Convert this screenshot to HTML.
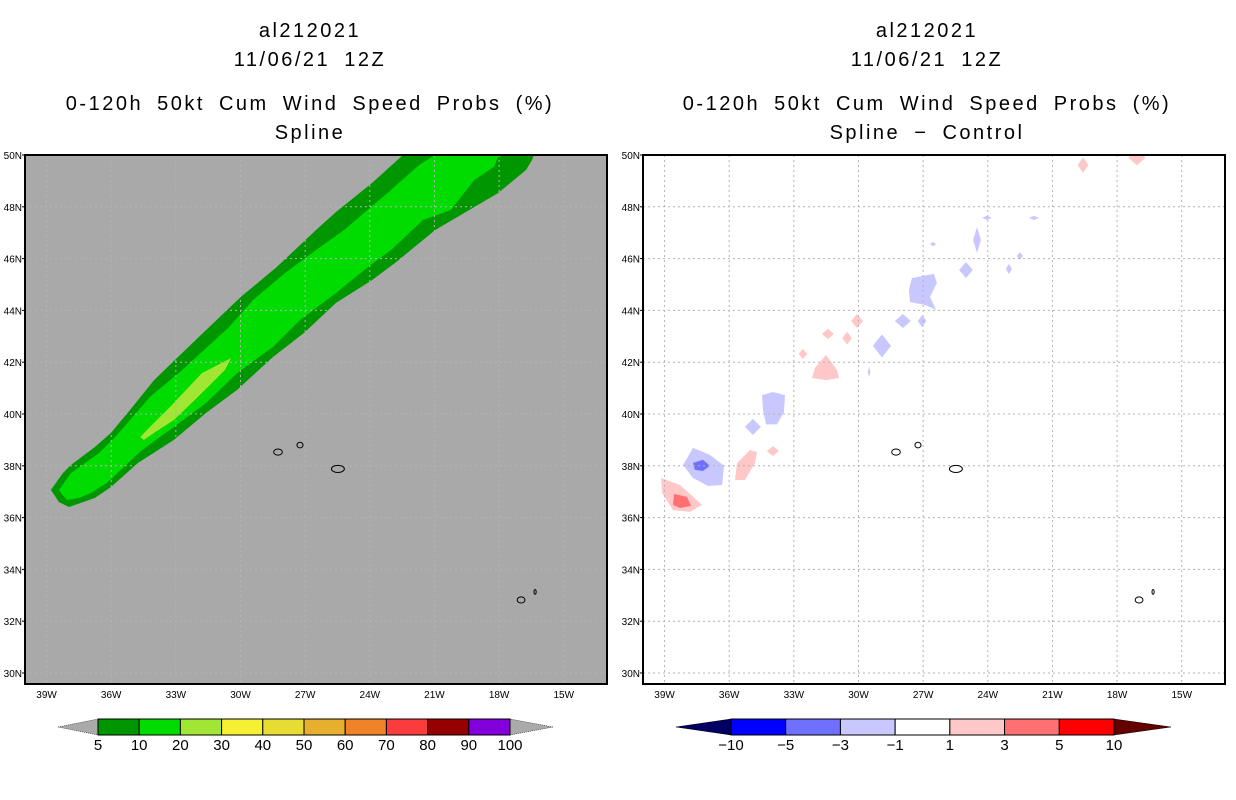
<!DOCTYPE html>
<html><head><meta charset="utf-8"><style>
html,body{margin:0;padding:0;background:#fff;width:1236px;height:800px;overflow:hidden}
svg{display:block}
text{font-family:"Liberation Sans",sans-serif;fill:#000}
.ttl{font-size:20px;letter-spacing:2.5px;word-spacing:6px}
.tk{font-size:10px}
.cb{font-size:15px}
</style></head><body>
<svg id="s" width="1236" height="800">
<g>
<text class="ttl" x="310" y="37" text-anchor="middle">al212021</text>
<text class="ttl" x="310" y="66" text-anchor="middle">11/06/21 12Z</text>
<text class="ttl" x="310" y="110" text-anchor="middle">0-120h 50kt Cum Wind Speed Probs (%)</text>
<text class="ttl" x="310" y="139" text-anchor="middle">Spline</text>
</g>
<g>
<text class="ttl" x="927" y="37" text-anchor="middle">al212021</text>
<text class="ttl" x="927" y="66" text-anchor="middle">11/06/21 12Z</text>
<text class="ttl" x="927" y="110" text-anchor="middle">0-120h 50kt Cum Wind Speed Probs (%)</text>
<text class="ttl" x="927" y="139" text-anchor="middle">Spline − Control</text>
</g>
</svg>
<script>
// ---- data ----
const lonTicks=[-39,-36,-33,-30,-27,-24,-21,-18,-15];
const lonLabels=["39W","36W","33W","30W","27W","24W","21W","18W","15W"];
const latTicks=[30,32,34,36,38,40,42,44,46,48,50];
const latLabels=["30N","32N","34N","36N","38N","40N","42N","44N","46N","48N","50N"];
const probOuter=[[-38.8,37.07],[-38.24,37.72],[-37.87,38.03],[-36.75,38.73],[-36.01,39.27],[-35.13,40.15],[-34.01,41.31],[-32.9,42.2],[-31.6,43.24],[-29.98,44.52],[-28.31,45.68],[-26.5,47.1],[-25.57,47.8],[-23.9,48.92],[-22.46,50],[-16.38,50],[-16.47,49.81],[-16.75,49.42],[-18.05,48.53],[-19.16,47.99],[-20.97,47.1],[-22.83,45.83],[-23.9,45.17],[-25.57,44.29],[-27.05,43.13],[-28.49,42.2],[-30.16,40.93],[-31.6,40.04],[-33.09,39.0],[-34.76,38.11],[-36.01,37.18],[-36.75,36.76],[-37.31,36.6],[-37.96,36.41],[-38.42,36.6]];
const prob10=[[-38.42,37.07],[-37.87,37.72],[-36.57,38.49],[-35.82,39.11],[-34.2,40.66],[-32.71,41.7],[-30.53,43.36],[-29.42,44.4],[-27.94,45.44],[-26.5,46.33],[-25.2,47.1],[-23.02,48.65],[-21.72,49.61],[-20.97,50],[-17.96,50],[-18.05,49.92],[-18.24,49.54],[-19.16,49.03],[-20.23,47.88],[-21.53,47.49],[-23.02,46.33],[-24.08,45.68],[-25.57,44.67],[-27.24,43.63],[-28.49,42.59],[-30.16,41.58],[-31.6,40.42],[-33.09,39.5],[-34.57,38.61],[-36.2,37.34],[-36.94,36.95],[-37.49,36.76],[-38.05,36.68],[-38.33,36.95]];
const prob20=[[-34.66,39.11],[-34.2,39.5],[-33.27,40.27],[-31.79,41.58],[-30.44,42.16],[-30.72,41.7],[-31.97,40.66],[-33.09,39.77],[-34.01,39.27],[-34.48,39.0]];
const islands=[[-28.26,38.53,0.2,0.08],[-27.24,38.8,0.14,0.07],[-25.48,37.88,0.3,0.1],[-16.98,32.82,0.18,0.08],[-16.33,33.13,0.05,0.05]];
const diffPolys=[
 {v:1,pts:[[-39.16,37.53],[-38.28,37.26],[-37.26,36.49],[-37.82,36.22],[-38.61,36.29],[-39.12,36.95]]},
 {v:3,pts:[[-38.56,36.91],[-37.96,36.8],[-37.77,36.45],[-38.28,36.37],[-38.61,36.49]]},
 {v:-1,pts:[[-38.14,38.03],[-37.68,38.69],[-36.89,38.42],[-36.24,38.0],[-36.33,37.26],[-36.98,37.22],[-37.68,37.53]]},
 {v:-3,pts:[[-37.68,38.11],[-37.22,38.23],[-36.89,38.0],[-37.22,37.8],[-37.59,37.84]]},
 {v:1,pts:[[-35.73,37.45],[-35.64,38.11],[-35.03,38.61],[-34.71,38.53],[-34.8,38.11],[-35.27,37.45]]},
 {v:-1,pts:[[-34.48,40.73],[-33.97,40.85],[-33.41,40.73],[-33.46,40.07],[-33.78,39.6],[-34.29,39.6],[-34.43,40.15]]},
 {v:1,pts:[[-31.51,42.28],[-31.0,41.7],[-30.9,41.39],[-31.51,41.31],[-32.16,41.39],[-32.02,41.78]]},
 {v:-1,pts:[[-27.52,45.25],[-26.5,45.41],[-26.36,45.06],[-26.68,44.52],[-26.4,44.02],[-26.91,44.21],[-27.61,44.32],[-27.66,44.79]]}
];
const diffSpots=[
 {v:1,c:[-33.97,38.57,0.28,0.19]},{v:-1,c:[-34.9,39.5,0.37,0.31]},{v:1,c:[-32.58,42.32,0.2,0.2]},
 {v:1,c:[-31.42,43.09,0.28,0.2]},{v:1,c:[-30.53,42.93,0.22,0.25]},{v:1,c:[-30.07,43.59,0.28,0.27]},
 {v:-1,c:[-28.91,42.63,0.42,0.45]},{v:-1,c:[-27.94,43.59,0.37,0.27]},{v:-1,c:[-27.05,43.59,0.2,0.23]},
 {v:-1,c:[-25.01,45.56,0.32,0.31]},{v:-1,c:[-24.5,46.72,0.18,0.5]},{v:-1,c:[-22.51,46.1,0.14,0.15]},
 {v:-1,c:[-23.02,45.6,0.14,0.2]},{v:-1,c:[-24.04,47.57,0.23,0.08]},{v:-1,c:[-21.86,47.57,0.23,0.08]},
 {v:-1,c:[-26.54,46.56,0.14,0.08]},{v:-1,c:[-29.51,41.62,0.06,0.2]},
 {v:1,c:[-19.58,49.61,0.25,0.3]},{v:1,c:[-17.08,49.9,0.4,0.3]}
];
const probLevels=["5","10","20","30","40","50","60","70","80","90","100"];
const probColors=["#009600","#00dc00","#a0e632","#f5f032","#e6dc32","#e6af2d","#f08228","#fa3c3c","#960000","#8200dc"];
const diffLevels=["-10","-5","-3","-1","1","3","5","10"];
const diffColors=["#0000ff","#7070ff","#c8c8ff","#ffffff","#ffc8c8","#ff7070","#ff0000"];
const diffFill={"-3":"#7070ff","-1":"#c8c8ff","1":"#ffc8c8","3":"#ff7070"};
// ---- render ----
const NS="http://www.w3.org/2000/svg",S=document.getElementById('s');
function mk(tag,at,par){const e=document.createElementNS(NS,tag);for(const k in at)e.setAttribute(k,at[k]);(par||S).appendChild(e);return e;}
const PT=155,PB=684,LON0=-40,LAT1=50,PXD=21.55,PYD=25.9;
function panel(px,bg,name){
 const g=mk('g',{});
 
 
 const W=582;
 const X=l=>px+(l-LON0)*PXD, Y=a=>PT+(LAT1-a)*PYD;
 const cp='clip'+px;
 const d=mk('clipPath',{id:cp},g);mk('rect',{x:px,y:PT,width:W,height:PB-PT},d);
 mk('rect',{x:px,y:PT,width:W,height:PB-PT,fill:bg},g);
 const body=mk('g',{'clip-path':'url(#'+cp+')'},g);
 return {g,body,X,Y,px,W};
}
function poly(P,pts,fill,name){const e=mk('polygon',{points:pts.map(p=>P.X(p[0]).toFixed(1)+','+P.Y(p[1]).toFixed(1)).join(' '),fill:fill},P.body);
 
 return e;}
function finish(P){
 const gg=mk('g',{stroke:'#b4b4b4','stroke-width':1,'stroke-dasharray':'2,3'},P.body);
 
 
 lonTicks.forEach(l=>mk('line',{x1:P.X(l),x2:P.X(l),y1:PT,y2:PB},gg));
 latTicks.forEach(a=>mk('line',{x1:P.px,x2:P.px+P.W,y1:P.Y(a),y2:P.Y(a)},gg));
 islands.forEach(i=>{const e=mk('ellipse',{cx:P.X(i[0]),cy:P.Y(i[1]),rx:i[2]*PXD,ry:i[3]*PYD+1,fill:'none',stroke:'#000','stroke-width':1},P.body);
  
  });
 const fr=mk('rect',{x:P.px,y:PT,width:P.W,height:PB-PT,fill:'none',stroke:'#000','stroke-width':2},P.g);
 
 
 lonTicks.forEach((l,i)=>{const t=mk('text',{class:'tk',x:P.X(l),y:PB+14,'text-anchor':'middle'},P.g);t.textContent=lonLabels[i];
  
  });
 latTicks.forEach((a,i)=>{const t=mk('text',{class:'tk',x:P.px-3,y:P.Y(a)+4,'text-anchor':'end'},P.g);t.textContent=latLabels[i];
  
  
  mk('line',{x1:P.px-3,x2:P.px,y1:P.Y(a),y2:P.Y(a),stroke:'#000'},P.g);});
}
const L=panel(25,'#a9a9a9','left-map-panel');
poly(L,probOuter,probColors[0],'prob-5-10');
poly(L,prob10,probColors[1],'prob-10-20');
poly(L,prob20,probColors[2],'prob-20-30');
finish(L);
const R=panel(643,'#ffffff','right-map-panel');
diffPolys.forEach(p=>poly(R,p.pts,diffFill[p.v],'diff-area'));
diffSpots.forEach(s=>{const c=s.c;poly(R,[[c[0],c[1]+c[3]],[c[0]+c[2],c[1]],[c[0],c[1]-c[3]],[c[0]-c[2],c[1]]],diffFill[s.v],'diff-spot');});
finish(R);
function colorbar(x0,x1,tl,tr,colors,levels,lc,rc,name){
 const g=mk('g',{});
 
 
 const y0=719,y1=735,w=(x1-x0)/colors.length;
 mk('polygon',{points:`${tl},727 ${x0},${y0} ${x0},${y1}`,fill:lc,stroke:'#000','stroke-width':0.5,'stroke-dasharray':lc=='#aaaaaa'?'1,1':''},g);
 mk('polygon',{points:`${tr},727 ${x1},${y0} ${x1},${y1}`,fill:rc,stroke:'#000','stroke-width':0.5,'stroke-dasharray':rc=='#aaaaaa'?'1,1':''},g);
 colors.forEach((c,i)=>{const r=mk('rect',{x:x0+i*w,y:y0,width:w,height:y1-y0,fill:c,stroke:'#000','stroke-width':1},g);
  
  });
 levels.forEach((s,i)=>{const t=mk('text',{class:'cb',x:x0+i*w,y:750,'text-anchor':'middle'},g);t.textContent=s.replace('-','−');
  
  });
}
colorbar(98,510,58,553,probColors,probLevels,'#aaaaaa','#aaaaaa','prob-colorbar');
colorbar(731,1114,676,1171,diffColors,diffLevels,'#000064','#640000','diff-colorbar');
</script>
</body></html>
